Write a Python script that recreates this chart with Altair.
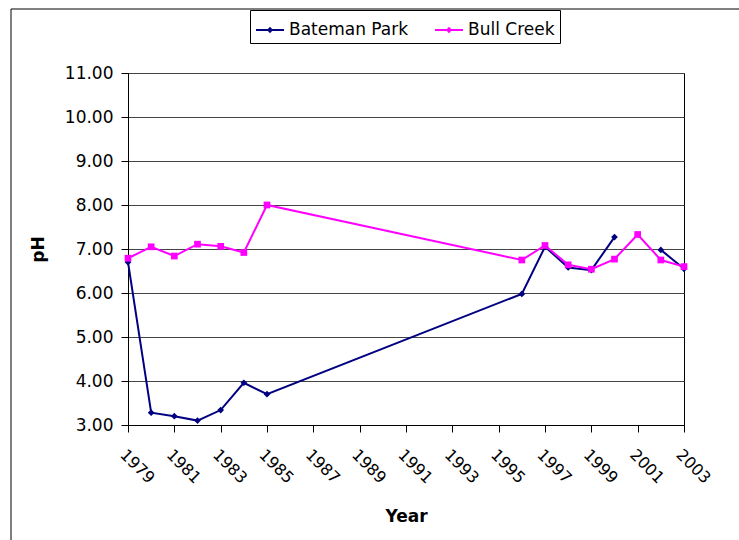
import altair as alt
import pandas as pd

years = [1979, 1980, 1981, 1982, 1983, 1984, 1985,
         1996, 1997, 1998, 1999, 2000, 2001, 2002, 2003]
bateman = [6.70, 3.28, 3.20, 3.10, 3.34, 3.96, 3.70,
           5.98, 7.05, 6.58, 6.52, 7.27, None, 6.98, 6.55]
bull = [6.79, 7.05, 6.84, 7.11, 7.06, 6.92, 8.00,
        6.75, 7.08, 6.64, 6.54, 6.77, 7.33, 6.75, 6.60]
series = ["Bateman Park", "Bull Creek"]
colors = ["#000080", "#FF00FF"]
marker_shapes = ["diamond", "square"]
legend_path = "M-1,0H1M0,-0.13L0.12,0L0,0.13L-0.12,0Z"
x_ticks = list(range(1979, 2004, 2))
y_ticks = list(range(3, 12))

FONT = "DejaVu Sans"

rows = []
for name, vals in zip(series, [bateman, bull]):
    seg = 0
    for yr, v in zip(years, vals):
        if v is None:
            seg += 1
            continue
        rows.append({"Year": yr, "pH": v, "Series": name, "Segment": f"{name}-{seg}"})
df = pd.DataFrame(rows)

x_enc = alt.X("Year:Q",
              scale=alt.Scale(domain=[1979, 2003], nice=False, zero=False),
              axis=alt.Axis(values=x_ticks, format="d", labelAngle=45,
                            labelAlign="left", labelBaseline="top",
                            grid=False, tickSize=7, labelPadding=14,
                            labelFontSize=16, labelFont=FONT,
                            title="Year", titleFontSize=17, titleFont=FONT,
                            titleFontWeight="bold", titlePadding=22,
                            labelOverlap=False, labelFlush=False))
y_enc = alt.Y("pH:Q",
              scale=alt.Scale(domain=[3, 11], nice=False, zero=False),
              axis=alt.Axis(values=y_ticks, format=".2f", grid=True,
                            gridColor="#444444", gridWidth=1,
                            tickSize=7, labelPadding=8,
                            labelFontSize=17, labelFont=FONT,
                            title="pH", titleFontSize=17, titleFont=FONT,
                            titleFontWeight="bold", titlePadding=17))

leg = alt.Legend(title=None, orient="none", legendX=122, legendY=-63,
                 direction="horizontal", strokeColor="black", fillColor="white",
                 padding=5, labelFontSize=17, labelFont=FONT, labelColor="black",
                 symbolSize=784, symbolStrokeWidth=2, symbolOpacity=1,
                 symbolType=legend_path,
                 labelOffset=4, columnPadding=22)

base = alt.Chart(df)

lines = base.mark_line(strokeWidth=2).encode(
    x=x_enc, y=y_enc,
    color=alt.Color("Series:N", scale=alt.Scale(domain=series, range=colors), legend=leg),
    detail="Segment:N",
)

point_layers = []
for name, col, shp in zip(series, colors, marker_shapes):
    point_layers.append(
        base.transform_filter(alt.datum.Series == name)
        .mark_point(filled=True, size=45, opacity=1, shape=shp, color=col)
        .encode(x=x_enc, y=y_enc)
    )

frame = alt.Chart(alt.Data(values=[{}])).mark_rect(
    fillOpacity=0, stroke="black", strokeWidth=1
).encode(x=alt.value(-117), x2=alt.value(700), y=alt.value(-64), y2=alt.value(560))

chart = alt.layer(frame, lines, *point_layers).properties(
    width=556, height=352,
    autosize=alt.AutoSizeParams(type="none"),
    padding={"left": 128, "top": 73, "right": 55, "bottom": 115},
    background="white",
).configure_view(
    stroke="black", strokeWidth=1
).configure_axis(
    domainColor="black", tickColor="black", labelColor="black", titleColor="black"
)

chart.save("out.html", embed_options={"renderer": "svg", "actions": False})
